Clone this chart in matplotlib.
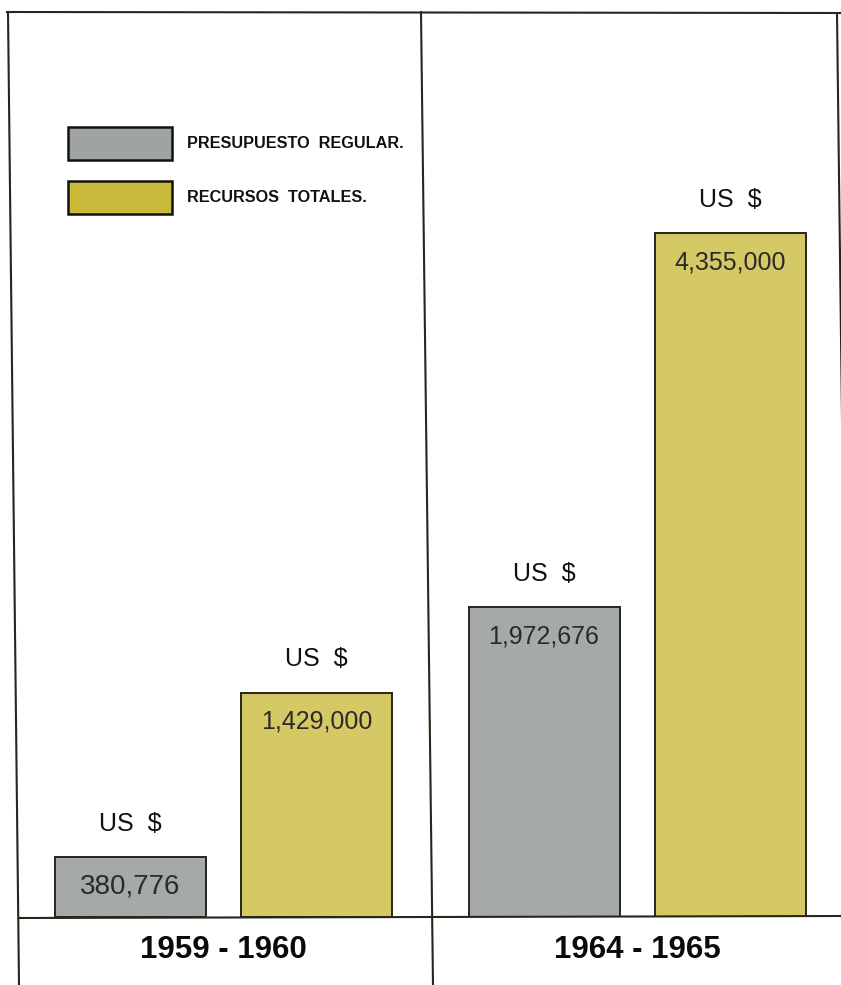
import matplotlib

matplotlib.use('Agg')

import matplotlib.pyplot as plt
from matplotlib.lines import Line2D
from matplotlib.patches import Rectangle

periods = ['1959 - 1960', '1964 - 1965']
regular = [380776, 1972676]
totales = [1429000, 4355000]
series_names = ['PRESUPUESTO  REGULAR.', 'RECURSOS  TOTALES.']

W, H = 841, 985
gray = '#a6a9aa'
yellow = '#d5c965'
ink = '#262619'
sans = ['Liberation Sans', 'DejaVu Sans']

fig = plt.figure(figsize=(W / 100, H / 100), dpi=100)
fig.patch.set_facecolor('white')

# axes: baseline at y=917px, top frame at y=12px
ax = fig.add_axes([0, (H - 917) / H, 1, (917 - 12) / H])
ax.set_xlim(-223.5 / 413.5, (W - 223.5) / 413.5)
ax.set_ylim(0, max(totales) * 905 / 684)
ax.axis('off')

off = 93 / 413.5
bw = 151 / 413.5
xs = range(len(periods))
b1 = ax.bar([x - off for x in xs], regular, bw, color=gray, edgecolor=ink, linewidth=1.4)
b2 = ax.bar([x + off for x in xs], totales, bw, color=yellow, edgecolor=ink, linewidth=1.4)


def fmt(v):
    return '{:,}'.format(v)


for bars, vals in ((b1, regular), (b2, totales)):
    for bar, v in zip(bars, vals):
        top = bar.get_height()
        cx = bar.get_x() + bar.get_width() / 2
        ax.annotate('US  $', (cx, top), xytext=(0, 24), textcoords='offset points',
                    ha='center', va='center', fontsize=18, family=sans, color='#111111')
        # the small bar has a taller figure in the original
        size = 20 if v < 500000 else 18
        ax.annotate(fmt(v), (cx, top), xytext=(0, -21), textcoords='offset points',
                    ha='center', va='center', fontsize=size, family=sans, color='#2a2a2a')

# period labels under the baseline
for i, p in enumerate(periods):
    ax.annotate(p, (i, 0), xytext=(0, -24), textcoords='offset points',
                ha='center', va='center', fontsize=22.5, fontweight='bold',
                family=sans, color='#0a0a0a')


# frame lines, in pixel coordinates of the scan (slightly tilted)
def fig_line(x0, y0, x1, y1, lw=1.5):
    fig.add_artist(Line2D([x0 / W, x1 / W], [1 - y0 / H, 1 - y1 / H],
                          transform=fig.transFigure, color=ink, linewidth=lw))


fig_line(7, 12, 841, 13)
fig_line(8, 12, 19, 985)
fig_line(421, 12, 433, 985)
fig_line(837, 13, 849, 985)
fig_line(19, 918, 841, 916)

# legend
for j, (name, col) in enumerate(zip(series_names, ['#a0a3a4', '#c9ba3c'])):
    y0 = 127 + j * 54
    fig.add_artist(Rectangle((68 / W, 1 - (y0 + 33) / H), 104 / W, 33 / H,
                             transform=fig.transFigure, facecolor=col,
                             edgecolor='#111111', linewidth=1.8))
    fig.text(187 / W, 1 - (y0 + 17) / H, name, ha='left', va='center',
             fontsize=11.7, fontweight='bold', family=sans, color='#111111')

fig.savefig('out.png', dpi=100, facecolor='white')
